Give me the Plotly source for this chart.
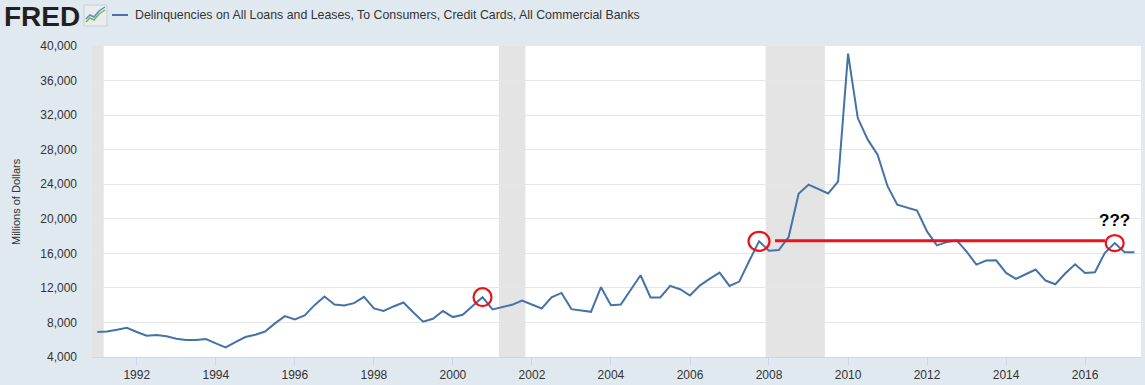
import pandas as pd
import plotly.graph_objects as go

# ---------------- data ----------------
quarters = pd.date_range("1991-01-01", "2017-04-01", freq="QS").strftime("%Y-%m-%d").tolist()
delinquencies = [
    6885, 6960, 7150, 7380,      # 1991
    6890, 6460, 6540, 6390,      # 1992
    6110, 5960, 5960, 6080,      # 1993
    5580, 5120, 5730, 6310,      # 1994
    6580, 6950, 7890, 8730,      # 1995
    8350, 8810, 10000, 11000,    # 1996
    10080, 9960, 10230, 10960,   # 1997
    9620, 9340, 9850, 10310,     # 1998
    9160, 8080, 8420, 9320,      # 1999
    8620, 8880, 9890, 10920,     # 2000
    9500, 9770, 10040, 10540,    # 2001
    10080, 9620, 10920, 11420,   # 2002
    9540, 9420, 9230, 12080,     # 2003
    10000, 10080, 11730, 13460,  # 2004
    10890, 10890, 12230, 11850,  # 2005
    11120, 12270, 13040, 13770,  # 2006
    12230, 12730, 15080, 17390,  # 2007
    16310, 16380, 17880, 22890,  # 2008
    23960, 23470, 22930, 24310,  # 2009
    39120, 31660, 29190, 27430,  # 2010
    23770, 21620, 21270, 20960,  # 2011
    18540, 16920, 17300, 17500,  # 2012
    16200, 14700, 15160, 15190,  # 2013
    13730, 13040, 13580, 14120,  # 2014
    12850, 12420, 13660, 14730,  # 2015
    13730, 13810, 16040, 17190,  # 2016
    16120, 16120,                # 2017
]
recession_starts = ["1990-07-01", "2001-03-01", "2007-12-01"]
recession_ends = ["1991-03-01", "2001-11-01", "2009-06-01"]
circled_quarters = ["2000-10-01", "2007-10-01", "2016-10-01"]
reference_level = 17450
reference_start = "2008-02-26"
reference_end = "2016-07-04"
y_ticks = list(range(4000, 40001, 4000))
series_name = "Delinquencies on All Loans and Leases, To Consumers, Credit Cards, All Commercial Banks"

# ---------------- layout helpers ----------------
W, H = 1145, 385
L, R, T, B = 92, 1141, 46, 357


def px(x):
    return (x - L) / (R - L)


def py(y):
    return (B - y) / (B - T)


BLUE = "#4572A7"
RED = "#e8141c"
BG = "#e1e9f0"

fig = go.Figure()
fig.add_trace(go.Scatter(x=quarters, y=delinquencies, mode="lines",
                         line=dict(color=BLUE, width=2), name=series_name,
                         showlegend=False))

shapes = []
for s, e in zip(recession_starts, recession_ends):
    shapes.append(dict(type="rect", xref="x", yref="paper", x0=s, x1=e, y0=0, y1=1,
                       fillcolor="#e4e4e4", line=dict(width=0), layer="below"))

# circles around chosen data points
circle_sizes = [(9, 9), (10.5, 9.5), (9, 8)]
for q, (rx, ry) in zip(circled_quarters, circle_sizes):
    v = delinquencies[quarters.index(q)]
    shapes.append(dict(type="circle", xref="x", yref="y", xsizemode="pixel", ysizemode="pixel",
                       xanchor=q, yanchor=v, x0=-rx, x1=rx, y0=-ry, y1=ry,
                       line=dict(color=RED, width=2.2)))

# horizontal reference line
shapes.append(dict(type="line", xref="x", yref="y", x0=reference_start, x1=reference_end,
                   y0=reference_level, y1=reference_level, line=dict(color=RED, width=3)))

# header decorations: icon + legend line
shapes.append(dict(type="rect", xref="paper", yref="paper", x0=px(84), x1=px(107),
                   y0=py(26), y1=py(5), fillcolor="#e9edf0", line=dict(color="#c8ced4", width=1)))
shapes.append(dict(type="path", xref="paper", yref="paper",
                   path="M {} {} L {} {} L {} {} L {} {} L {} {}".format(
                       px(86), py(22), px(90), py(18), px(94), py(20), px(99), py(14), px(105), py(10)),
                   line=dict(color="#7ab648", width=1.5)))
shapes.append(dict(type="path", xref="paper", yref="paper",
                   path="M {} {} L {} {} L {} {} L {} {} L {} {}".format(
                       px(86), py(19), px(90), py(15), px(94), py(17), px(99), py(11), px(105), py(7)),
                   line=dict(color="#5b8bc9", width=1.5)))
shapes.append(dict(type="line", xref="paper", yref="paper", x0=px(112), x1=px(128),
                   y0=py(15), y1=py(15), line=dict(color=BLUE, width=2)))

annotations = [
    dict(xref="paper", yref="paper", x=px(2), y=py(16), xanchor="left", yanchor="middle",
         text="<b>FRED</b>", showarrow=False,
         font=dict(family="Liberation Sans, Arial, sans-serif", size=28, color="#231f20")),
    dict(xref="paper", yref="paper", x=px(133), y=py(15), xanchor="left", yanchor="middle",
         text=series_name, showarrow=False,
         font=dict(family="Liberation Sans, Arial, sans-serif", size=12.35, color="#333333")),
    dict(xref="paper", yref="paper", x=px(16), y=py(202), xanchor="center", yanchor="middle",
         text="Millions of Dollars", textangle=-90, showarrow=False,
         font=dict(family="Liberation Sans, Arial, sans-serif", size=11, color="#333333")),
    dict(xref="x", yref="paper", x="2016-10-01", y=py(221), xanchor="center", yanchor="middle",
         text="<b>???</b>", showarrow=False,
         font=dict(family="Liberation Sans, Arial, sans-serif", size=17, color="#000000")),
]

fig.update_layout(
    width=W, height=H,
    margin=dict(l=L, r=W - R, t=T, b=H - B, pad=0),
    paper_bgcolor=BG, plot_bgcolor="#ffffff",
    shapes=shapes, annotations=annotations,
    showlegend=False,
    font=dict(family="Liberation Sans, Arial, sans-serif", size=12, color="#333333"),
    xaxis=dict(type="date", range=["1990-11-13", "2017-06-01"], tick0="1992-01-01", dtick="M24",
               tickformat="%Y", ticks="outside", ticklen=7, tickcolor="#ccd6eb", tickwidth=1,
               showline=True, linecolor="#ccd6eb", linewidth=1, showgrid=False, zeroline=False,
               tickfont=dict(size=12, color="#333333")),
    yaxis=dict(range=[4000, 40000], tickvals=y_ticks, tickformat=",", showgrid=True,
               gridcolor="#e6e6e6", gridwidth=1, zeroline=False, showline=False,
               ticks="", ticklabelstandoff=14, tickfont=dict(size=12, color="#333333")),
)

fig.write_html("out.html",
               config={"displayModeBar": False},
               post_script="document.body.style.margin='0px';"
                           "document.body.style.overflow='hidden';"
                           "document.body.style.background='" + BG + "';")
